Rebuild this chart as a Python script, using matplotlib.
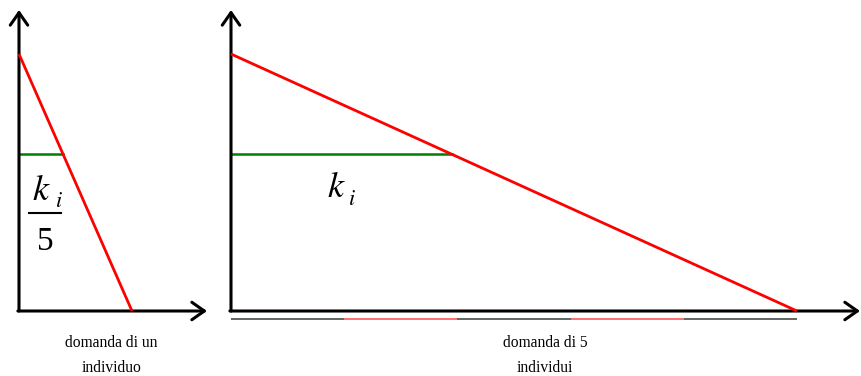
import matplotlib.pyplot as plt
import numpy as np

# demand curve data (arbitrary units)
p_max = 10.0          # price intercept
k_level = 6.1         # level of k_i (and k_i/5 for one person)
q_one = 1.0           # quantity intercept, one person
n_people = 5          # number of people
seg_colors = ['#5f6464', '#ff6f6f', '#5f6464', '#ff6f6f', '#5f6464']

label_left = ['domanda di un', 'individuo']
label_right = ['domanda di 5', 'individui']

W, H = 861, 376
fig = plt.figure(figsize=(W / 100, H / 100), dpi=100)
serif = 'Liberation Serif'

y0_px = 311          # pixel row of the quantity axis
px_per_y = 25.7
ylo = -(H - y0_px) / px_per_y
yhi = y0_px / px_per_y
ytop = (y0_px - 10) / px_per_y


def make_ax(x_from, x_to, x0_px, px_per_x):
    ax = fig.add_axes([x_from / W, 0, (x_to - x_from) / W, 1])
    ax.set_xlim(-(x0_px - x_from) / px_per_x, (x_to - x0_px) / px_per_x)
    ax.set_ylim(ylo, yhi)
    ax.axis('off')
    return ax


def draw_axes(ax, xtip):
    arrow = dict(arrowstyle='->,head_width=0.35,head_length=0.5', color='black',
                 lw=2.2, mutation_scale=18, shrinkA=0, shrinkB=0)
    ax.annotate('', xy=(0, ytop), xytext=(0, 0), arrowprops=arrow)
    ax.annotate('', xy=(xtip, 0), xytext=(-0.01, 0), arrowprops=arrow)


def k_i(ax, x, y, xi, yi):
    ax.text(x, y, r'$k$', fontsize=26, math_fontfamily='stix', va='baseline')
    ax.text(xi, yi, r'$i$', fontsize=16, math_fontfamily='stix', va='baseline')


# left panel: one person
axl = make_ax(0, 220, 19, 113)
draw_axes(axl, (207 - 19) / 113)
q = np.array([0, q_one])
axl.plot(q, p_max * (1 - q / q_one), color='red', lw=2.0, solid_capstyle='butt', zorder=3)
axl.plot([0, q_one * (1 - k_level / p_max)], [k_level, k_level], color='green', lw=1.8)
k_i(axl, 0.115, 4.32, 0.32, 4.05)
axl.plot([0.088, 0.372], [3.81, 3.81], color='black', lw=1.5)
axl.text(0.235, 2.37, '5', fontsize=24, family=serif, ha='center', va='baseline')
axl.text(0.82, -1.25, label_left[0], fontsize=11.2, family=serif,
         ha='center', va='center')
axl.text(0.82, -2.22, label_left[1], fontsize=11.2, family=serif,
         ha='center', va='center')

# right panel: five people
Q = n_people * q_one
axr = make_ax(220, W, 231, 113.2)
draw_axes(axr, (860 - 231) / 113.2)
qq = np.array([0, Q])
axr.plot(qq, p_max * (1 - qq / Q), color='red', lw=2.0, solid_capstyle='butt', zorder=3)
axr.plot([0, Q * (1 - k_level / p_max)], [k_level, k_level], color='green', lw=1.8)
k_i(axr, 0.85, 4.44, 1.035, 4.13)
for i, c in enumerate(seg_colors):
    axr.plot([i * q_one, (i + 1) * q_one], [-0.31, -0.31], color=c, lw=1.4,
             solid_capstyle='butt')
axr.text(Q * 0.555, -1.25, label_right[0], fontsize=11.2, family=serif,
         ha='center', va='center')
axr.text(Q * 0.555, -2.22, label_right[1], fontsize=11.2, family=serif,
         ha='center', va='center')

fig.savefig('out.png', dpi=100)
